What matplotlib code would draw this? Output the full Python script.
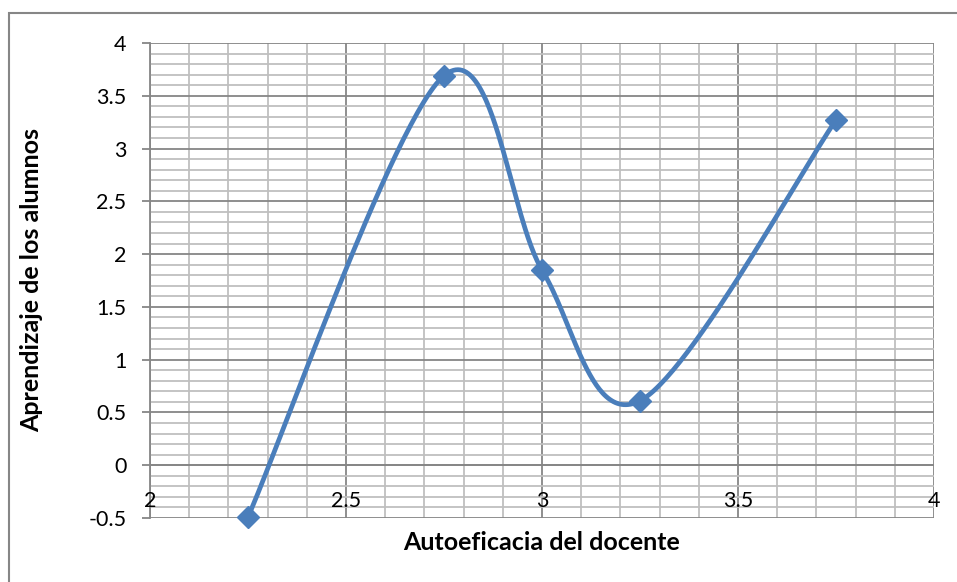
import numpy as np
import matplotlib
matplotlib.use("Agg")
import matplotlib.pyplot as plt
from matplotlib.patches import Rectangle
from matplotlib.ticker import MultipleLocator

# Data
x_vals = [2.25, 2.75, 3.0, 3.25, 3.75]
y_vals = [-0.49, 3.69, 1.85, 0.61, 3.27]
x_ticks = [2, 2.5, 3, 3.5, 4]
x_tick_labels = ["2", "2.5", "3", "3.5", "4"]
y_ticks = [-0.5, 0, 0.5, 1, 1.5, 2, 2.5, 3, 3.5, 4]
y_tick_labels = ["-0.5", "0", "0.5", "1", "1.5", "2", "2.5", "3", "3.5", "4"]
x_label = "Autoeficacia del docente"
y_label = "Aprendizaje de los alumnos"

plt.rcParams['font.family'] = ['Lato', 'DejaVu Sans']

def smooth_curve(xs, ys, n=60):
    P = np.column_stack([xs, ys]).astype(float)
    pts = []
    m = len(P)
    t = np.linspace(0, 1, n)[:, None]
    for i in range(m - 1):
        p_prev = P[i - 1] if i > 0 else P[i]
        p_next2 = P[i + 2] if i + 2 < m else P[i + 1]
        c1 = P[i] + (P[i + 1] - p_prev) / 6.0
        c2 = P[i + 1] - (p_next2 - P[i]) / 6.0
        seg = ((1 - t) ** 3) * P[i] + 3 * ((1 - t) ** 2) * t * c1 + 3 * (1 - t) * t ** 2 * c2 + t ** 3 * P[i + 1]
        pts.append(seg if i == 0 else seg[1:])
    pts = np.vstack(pts)
    return pts[:, 0], pts[:, 1]

W, H = 957, 582
fig = plt.figure(figsize=(W / 100, H / 100), dpi=100)
ax = fig.add_axes([150 / W, 1 - 518 / H, (934 - 150) / W, (518 - 43) / H])

# Outer chart frame
fig.patches.append(Rectangle((9 / W, -0.1), 1.2, 1.1 - 13 / H, transform=fig.transFigure,
                             fill=False, edgecolor='#868686', linewidth=1.5))

ax.set_xlim(2, 4)
ax.set_ylim(-0.5, 4)

major_c = '#868686'
minor_c = '#bfbfbf'
ax.xaxis.set_minor_locator(MultipleLocator(0.1))
ax.yaxis.set_minor_locator(MultipleLocator(0.1))
ax.grid(which='minor', color=minor_c, linewidth=1.3, zorder=0)
ax.grid(which='major', color=major_c, linewidth=1.3, zorder=0)
ax.set_axisbelow(True)

for s in ['top', 'right', 'bottom']:
    ax.spines[s].set_visible(False)
ax.spines['left'].set_color(major_c)
ax.spines['left'].set_linewidth(1.3)

ax.set_xticks(x_ticks)
ax.set_xticklabels(x_tick_labels)
ax.set_yticks(y_ticks)
ax.set_yticklabels(y_tick_labels)
ax.axhline(0, color=major_c, linewidth=1.3, zorder=1)
ax.tick_params(axis='x', which='both', length=0, labelsize=15.5, pad=0)
ax.tick_params(axis='y', which='major', length=6, width=1.3, color=major_c, labelsize=15.5, pad=11)
ax.tick_params(axis='y', which='minor', length=0)

# x tick labels sit under the y=0 line (axis crosses at 0)
for lbl in ax.get_xticklabels():
    lbl.set_visible(False)
for xt, lab in zip(x_ticks, x_tick_labels):
    ax.annotate(lab, xy=(xt, 0), xycoords='data', xytext=(0, -26), textcoords='offset pixels',
                ha='center', va='top', fontsize=15.5)

sx, sy = smooth_curve(x_vals, y_vals)
ax.plot(sx, sy, color='#4A7EBB', linewidth=3.4, zorder=3, clip_on=False, solid_capstyle='round')
ax.plot(x_vals, y_vals, linestyle='none', marker='D', markersize=11, color='#4A7EBB', zorder=4, clip_on=False)

ax.set_xlabel(x_label, fontsize=18, fontweight='bold')
ax.set_ylabel(y_label, fontsize=18, fontweight='bold')
ax.xaxis.set_label_coords(0.5, -0.027)
ax.yaxis.set_label_coords(-0.136, 0.5)

fig.savefig('out.png', dpi=100)
